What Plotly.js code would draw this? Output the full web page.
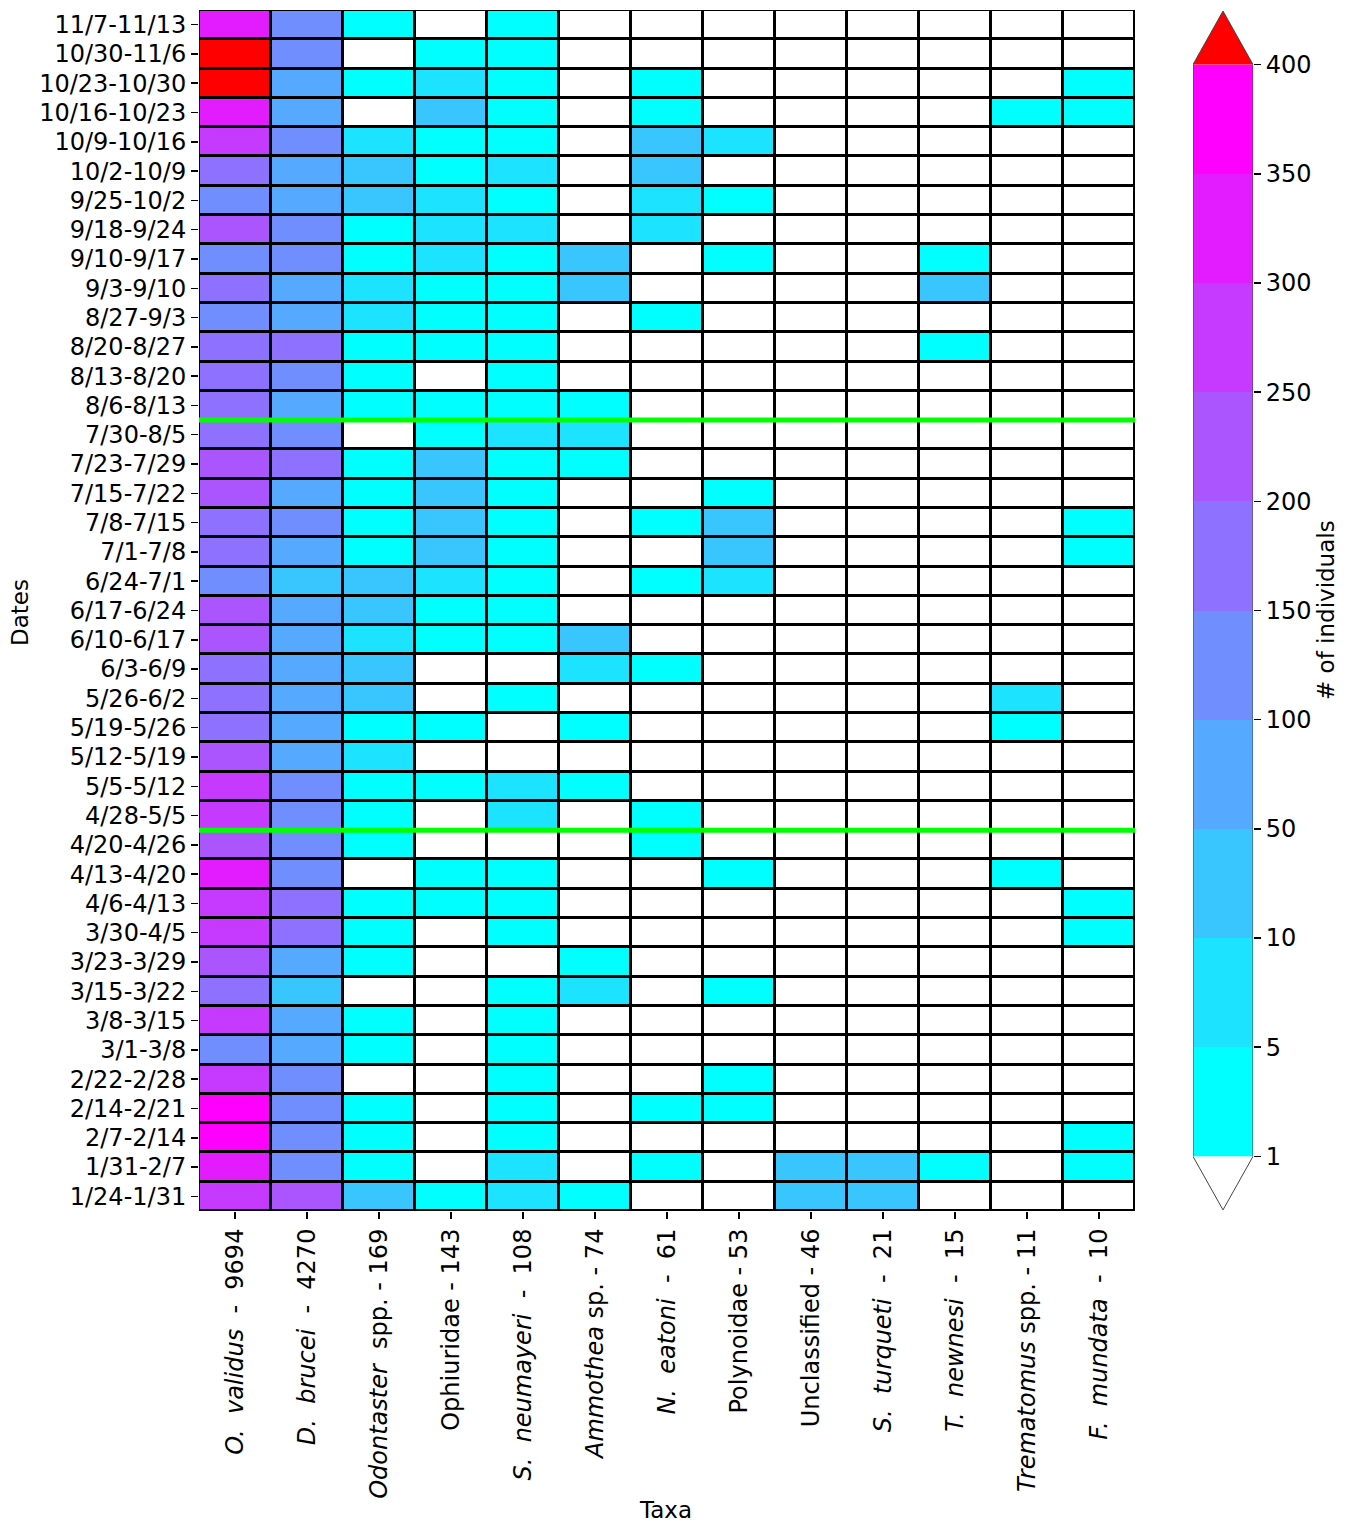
<!DOCTYPE html>
<html>
<head>
<meta charset="utf-8">
<script src="https://cdn.plot.ly/plotly-3.0.1.min.js"></script>
<style>html,body{margin:0;padding:0;background:#fff;}#chart{width:1350px;height:1524px;}</style>
</head>
<body>
<div id="chart"></div>
<script>
// ---------- DATA (rows listed top to bottom as drawn) ----------
const dates = ["11/7-11/13","10/30-11/6","10/23-10/30","10/16-10/23","10/9-10/16","10/2-10/9","9/25-10/2","9/18-9/24","9/10-9/17","9/3-9/10","8/27-9/3","8/20-8/27","8/13-8/20","8/6-8/13","7/30-8/5","7/23-7/29","7/15-7/22","7/8-7/15","7/1-7/8","6/24-7/1","6/17-6/24","6/10-6/17","6/3-6/9","5/26-6/2","5/19-5/26","5/12-5/19","5/5-5/12","4/28-5/5","4/20-4/26","4/13-4/20","4/6-4/13","3/30-4/5","3/23-3/29","3/15-3/22","3/8-3/15","3/1-3/8","2/22-2/28","2/14-2/21","2/7-2/14","1/31-2/7","1/24-1/31"];

const NB = "\u00a0";
const taxaLabels = [
  "<i>O." + NB + " validus</i>" + NB + " -" + NB + " 9694",
  "<i>D." + NB + " brucei</i>" + NB + " -" + NB + " 4270",
  "<i>Odontaster</i>" + NB + " spp. - 169",
  "Ophiuridae - 143",
  "<i>S." + NB + " neumayeri</i>" + NB + " -" + NB + " 108",
  "<i>Ammothea</i> sp. - 74",
  "<i>N." + NB + " eatoni</i>" + NB + " -" + NB + " 61",
  "Polynoidae - 53",
  "Unclassified - 46",
  "<i>S." + NB + " turqueti</i>" + NB + " -" + NB + " 21",
  "<i>T." + NB + " newnesi</i>" + NB + " -" + NB + " 15",
  "<i>Trematomus</i> spp. - 11",
  "<i>F." + NB + " mundata</i>" + NB + " -" + NB + " 10"
];

const oValidus   = [325,460,459,325,275,175,125,225,125,175,125,175,175,175,175,225,225,175,175,125,225,225,175,175,175,225,275,275,225,325,275,275,225,175,275,125,275,375,375,325,275];
const dBrucei    = [125,125,72,72,125,72,72,125,125,72,72,175,125,72,125,175,72,125,72,25,72,72,72,72,72,72,125,125,125,125,175,175,72,25,72,72,125,125,125,125,225];
const odontaster = [3,0,2,0,7,11,11,3,2,7,7,3,2,3,0,2,3,2,3,11,11,7,11,11,2,7,3,2,3,0,2,3,2,0,3,2,0,3,2,3,11];
const ophiuridae = [0,2,6,16,2,2,6,6,6,2,2,2,0,2,2,17,16,17,17,6,2,2,0,0,2,0,2,0,0,2,2,0,0,0,0,0,0,0,0,0,2];
const sNeumayeri = [2,2,2,2,2,7,2,7,2,2,2,2,2,2,7,2,2,2,2,2,2,2,0,2,0,0,7,7,0,2,2,2,0,2,2,2,2,2,3,7,7];
const ammothea   = [0,0,0,0,0,0,0,0,14,14,0,0,0,2,7,2,0,0,0,0,0,13,7,0,2,0,2,0,0,0,0,0,2,7,0,0,0,0,0,0,2];
const nEatoni    = [0,0,2,2,14,13,7,7,0,0,2,0,0,0,0,0,0,2,0,2,0,0,2,0,0,0,0,2,2,0,0,0,0,0,0,0,0,2,0,2,0];
const polynoidae = [0,0,0,0,7,0,2,0,2,0,0,0,0,0,0,0,2,13,12,7,0,0,0,0,0,0,0,0,0,2,0,0,0,2,0,0,2,2,0,0,0];
const unclassified=[0,0,0,0,0,0,0,0,0,0,0,0,0,0,0,0,0,0,0,0,0,0,0,0,0,0,0,0,0,0,0,0,0,0,0,0,0,0,0,23,23];
const sTurqueti  = [0,0,0,0,0,0,0,0,0,0,0,0,0,0,0,0,0,0,0,0,0,0,0,0,0,0,0,0,0,0,0,0,0,0,0,0,0,0,0,11,10];
const tNewnesi   = [0,0,0,0,0,0,0,0,2,10,0,1,0,0,0,0,0,0,0,0,0,0,0,0,0,0,0,0,0,0,0,0,0,0,0,0,0,0,0,2,0];
const trematomus = [0,0,0,1,0,0,0,0,0,0,0,0,0,0,0,0,0,0,0,0,0,0,0,5,2,0,0,0,0,3,0,0,0,0,0,0,0,0,0,0,0];
const fMundata   = [0,0,1,1,0,0,0,0,0,0,0,0,0,0,0,0,0,2,1,0,0,0,0,0,0,0,0,0,0,0,1,1,0,0,0,0,0,0,2,1,0];

const bounds = [1,5,10,50,100,150,200,250,300,350,400];
const periodBreaks = ["8/6-8/13","4/28-5/5"]; // green line drawn under these rows

// ---------- BUILD ----------
const series = [oValidus,dBrucei,odontaster,ophiuridae,sNeumayeri,ammothea,nEatoni,polynoidae,unclassified,sTurqueti,tNewnesi,trematomus,fMundata];
const nB = bounds.length - 1;
function binOf(v){
  if (v < bounds[0]) return -1;
  if (v >= bounds[nB]) return nB;
  for (let i = 0; i < nB; i++) if (v < bounds[i+1]) return i;
  return nB;
}
// cool colormap sampled per bin, plus under (white) and over (red)
const binColors = ["#ffffff"];
for (let i = 0; i < nB; i++){
  const t = i/(nB-1);
  const r = Math.round(255*t), g = Math.round(255*(1-t));
  binColors.push(`rgb(${r},${g},255)`);
}
binColors.push("#ff0000");
const nC = binColors.length;
const cscale = [];
binColors.forEach((c,k)=>{ cscale.push([k/nC,c]); cscale.push([(k+1)/nC,c]); });

const z = dates.map((d,r)=> series.map(s=>binOf(s[r])));
const xIdx = taxaLabels.map((_,i)=>i);
const yIdx = dates.map((_,i)=>i);

const W = 1350, H = 1524;
const px = v => v/W, py = v => 1 - v/H;
const mainYDomain = [py(1211), py(10)];

const font = {family:"DejaVu Sans, sans-serif", size:23, color:"#000"};
const tickFont = {family:"DejaVu Sans, sans-serif", size:24, color:"#000"};

const traces = [
  {type:"heatmap", x:xIdx, y:yIdx, z:z, zmin:-1.5, zmax:nB+0.5, colorscale:cscale,
   showscale:false, xgap:3, ygap:3, hoverinfo:"skip", xaxis:"x", yaxis:"y"},
  {type:"heatmap", x:[0.5], y:bounds.slice(0,nB).map((_,i)=>i+0.5),
   z:bounds.slice(0,nB).map((_,i)=>[i]), zmin:-1.5, zmax:nB+0.5, colorscale:cscale,
   showscale:false, hoverinfo:"skip", xaxis:"x2", yaxis:"y2"}
];

const shapes = [
  {type:"rect", xref:"x", yref:"y", x0:-0.5, x1:xIdx.length-0.5, y0:-0.5, y1:dates.length-0.5,
   fillcolor:"#000", line:{width:0}, layer:"below"},
  {type:"rect", xref:"x", yref:"y", x0:-0.5, x1:xIdx.length-0.5, y0:-0.5, y1:dates.length-0.5,
   fillcolor:"rgba(0,0,0,0)", line:{color:"#000", width:2}},
];
periodBreaks.forEach(lbl=>{
  const yb = dates.indexOf(lbl) + 0.5;
  shapes.push({type:"line", xref:"x", yref:"y", x0:-0.5, x1:xIdx.length-0.5, y0:yb, y1:yb,
    line:{color:"#00ff00", width:5}});
});
const tri = 0.49;
shapes.push({type:"path", xref:"x2", yref:"y2", path:`M0,${nB} L0.5,${nB+tri} L1,${nB} Z`, fillcolor:"#ff0000", line:{width:0}});
shapes.push({type:"path", xref:"x2", yref:"y2", path:`M0,0 L0.5,${-tri} L1,0 Z`, fillcolor:"#ffffff", line:{width:0}});
shapes.push({type:"path", xref:"x2", yref:"y2",
  path:`M0,0 L0.5,${-tri} L1,0 L1,${nB} L0.5,${nB+tri} L0,${nB} Z`,
  fillcolor:"rgba(0,0,0,0)", line:{color:"#444", width:1}});

const layout = {
  width:W, height:H, margin:{l:0,r:0,t:0,b:0},
  paper_bgcolor:"#fff", plot_bgcolor:"#fff", showlegend:false,
  font:font,
  xaxis:{domain:[px(199),px(1135)], range:[-0.5,xIdx.length-0.5], tickvals:xIdx, ticktext:taxaLabels,
    tickangle:-90, ticks:"outside", ticklen:7, tickwidth:1.5, tickcolor:"#000",
    showgrid:false, zeroline:false, showline:false, tickfont:tickFont, anchor:"y", automargin:false},
  yaxis:{domain:mainYDomain, range:[dates.length-0.5,-0.5], tickvals:yIdx, ticktext:dates,
    ticks:"outside", ticklen:7, tickwidth:1.5, tickcolor:"#000",
    showgrid:false, zeroline:false, showline:false, tickfont:tickFont, anchor:"x", automargin:false},
  xaxis2:{domain:[px(1193),px(1253)], range:[0,1], visible:false, anchor:"y2"},
  yaxis2:{domain:mainYDomain, range:[-0.5,nB+0.5], anchor:"x2", side:"right",
    tickvals:bounds.map((_,i)=>i), ticktext:bounds.map(String),
    ticks:"outside", ticklen:7, tickwidth:1.5, tickcolor:"#000",
    showgrid:false, zeroline:false, showline:false, tickfont:tickFont, automargin:false},
  shapes:shapes,
  annotations:[
    {text:"Dates", xref:"paper", yref:"paper", x:px(20), y:py(613), textangle:-90, showarrow:false, font:font, xanchor:"center", yanchor:"middle"},
    {text:"Taxa", xref:"paper", yref:"paper", x:px(665), y:py(1510), showarrow:false, font:font, xanchor:"center", yanchor:"middle"},
    {text:"# of individuals", xref:"paper", yref:"paper", x:px(1326), y:py(610), textangle:-90, showarrow:false, font:font, xanchor:"center", yanchor:"middle"}
  ]
};

Plotly.newPlot("chart", traces, layout, {staticPlot:true, displayModeBar:false});
</script>
</body>
</html>
